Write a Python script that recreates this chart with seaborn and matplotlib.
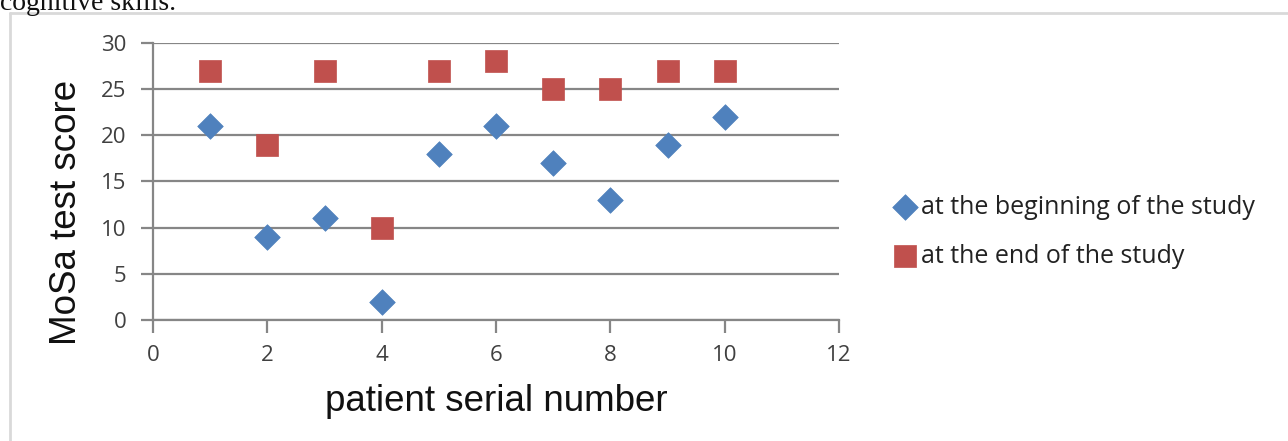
import matplotlib
matplotlib.use("Agg")
import matplotlib.pyplot as plt
import seaborn as sns
import pandas as pd

patients = [1, 2, 3, 4, 5, 6, 7, 8, 9, 10]
begin_scores = [21, 9, 11, 2, 18, 21, 17, 13, 19, 22]
end_scores = [27, 19, 27, 10, 27, 28, 25, 25, 27, 27]
series_names = ["at the beginning of the study", "at the end of the study"]
x_ticks = [0, 2, 4, 6, 8, 10, 12]
y_ticks = [0, 5, 10, 15, 20, 25, 30]

sns.set_theme(style="white")
plt.rcParams['font.family'] = ['Open Sans', 'DejaVu Sans']

df = pd.DataFrame({
    "patient": patients * 2,
    "score": begin_scores + end_scores,
    "series": [series_names[0]] * len(patients) + [series_names[1]] * len(patients),
})

fig = plt.figure(figsize=(12.88, 4.41), dpi=100)
ax = fig.add_axes([0.1188, 0.2744, 0.5326, 0.6281])

grid_c = "#868686"
sns.scatterplot(data=df[df.series == series_names[1]], x="patient", y="score",
                marker="s", s=250, color="#C0504D", edgecolor="#C0504D", linewidth=0.5,
                ax=ax, label=series_names[1], zorder=3)
sns.scatterplot(data=df[df.series == series_names[0]], x="patient", y="score",
                marker="D", s=170, color="#4F81BD", edgecolor="#4F81BD", linewidth=0.5,
                ax=ax, label=series_names[0], zorder=4)

ax.set_xlim(0, 12)
ax.set_ylim(0, 30)
ax.set_xticks(x_ticks)
ax.set_yticks(y_ticks)
ax.yaxis.grid(True, color=grid_c, linewidth=1.6)
ax.xaxis.grid(False)
for s in ["top", "right"]:
    ax.spines[s].set_visible(False)
for s in ["left", "bottom"]:
    ax.spines[s].set_color(grid_c)
    ax.spines[s].set_linewidth(1.6)
ax.tick_params(axis="both", direction="out", length=9, width=1.6, color=grid_c,
               labelsize=16, labelcolor="#404040", pad=10, left=True, bottom=True)
ax.tick_params(axis="x", pad=9)

ax.set_xlabel("patient serial number", fontsize=26.5, family=["Liberation Sans", "DejaVu Sans"],
              color="#111111", labelpad=13)
ax.set_ylabel("MoSa test score", fontsize=26.5, family=["Liberation Sans", "DejaVu Sans"],
              color="#111111")
ax.yaxis.set_label_coords(-0.1, 0.39)

handles, labels = ax.get_legend_handles_labels()
order = [labels.index(series_names[0]), labels.index(series_names[1])]
leg = ax.legend([handles[i] for i in order], [labels[i] for i in order],
                loc="center left", bbox_to_anchor=(1.08, 0.318), frameon=False,
                fontsize=18, labelspacing=0.95, handletextpad=0.2, handlelength=0.9,
                borderaxespad=0, borderpad=0)
for t in leg.get_texts():
    t.set_color("#222222")

# surrounding box of the source figure
fig.add_artist(plt.Line2D([0.0078, 0.0078], [0, 0.9705], transform=fig.transFigure,
                          color="#d9d9d9", linewidth=2))
fig.add_artist(plt.Line2D([0.0078, 1.0], [0.9705, 0.9705], transform=fig.transFigure,
                          color="#d9d9d9", linewidth=2))
fig.text(0.0, 1 - 10 / 441, "cognitive skills.", fontsize=20,
         family=["Liberation Serif", "DejaVu Serif"],
         color="#111111", va="baseline", ha="left")

fig.savefig("out.png", dpi=100)
